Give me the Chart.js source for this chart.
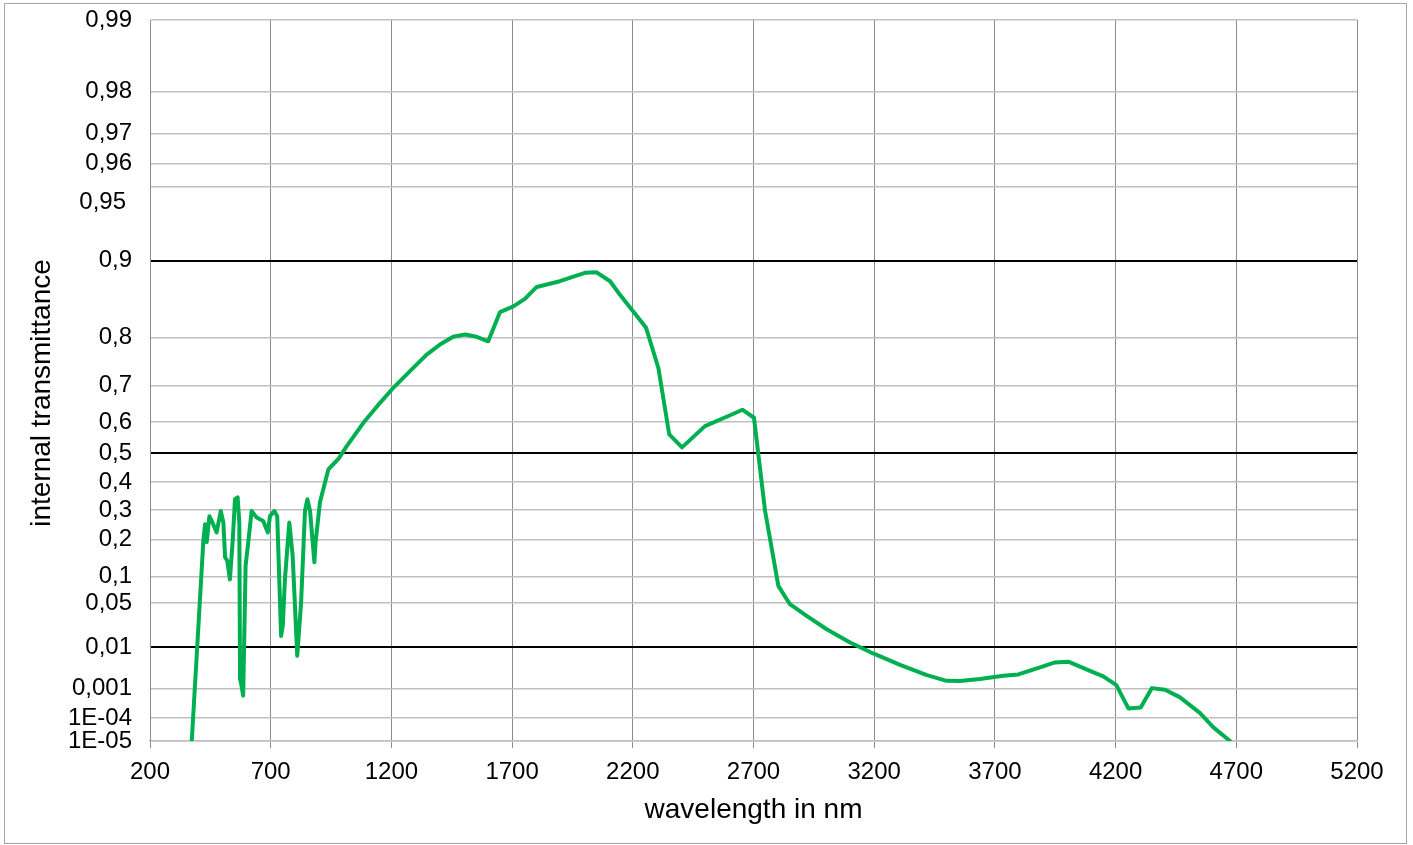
<!DOCTYPE html>
<html>
<head>
<meta charset="utf-8">
<title>internal transmittance</title>
<script src="https://cdn.jsdelivr.net/npm/chart.js@4.4.1/dist/chart.umd.min.js"></script>
<style>
  html, body { margin: 0; padding: 0; background: #fff; }
  #wrap { position: relative; width: 1413px; height: 845px; }
</style>
</head>
<body>
<div id="wrap"><canvas id="transChart"></canvas></div>
<script>
// ---------------------------------------------------------------------------
// data read off the curve : wavelength in nm / internal transmittance
// ---------------------------------------------------------------------------
const wavelengths = [
  373, 421, 428, 435, 446, 456, 476, 493, 504, 511, 520, 531, 543, 552, 563, 570,
  573, 578, 586, 596, 607, 621, 642, 669, 688, 697, 715, 727, 743, 750, 759, 777,
  791, 810, 826, 842, 852, 863, 881, 886, 904, 939, 984, 1015, 1084, 1153, 1208,
  1277, 1346, 1401, 1456, 1505, 1553, 1601, 1650, 1705, 1753, 1802, 1898, 1954,
  2002, 2050, 2106, 2147, 2202, 2255, 2306, 2351, 2404, 2499, 2596, 2654, 2702,
  2748, 2803, 2851, 2920, 3003, 3100, 3196, 3307, 3418, 3500, 3555, 3638, 3735,
  3797, 3887, 3949, 4004, 4094, 4149, 4203, 4253, 4304, 4350, 4405, 4467, 4550,
  4605, 4674
];
const transmittance = [
  0.00001, 0.196, 0.250, 0.192, 0.278, 0.261, 0.223, 0.296, 0.256, 0.148, 0.138, 0.093, 0.201, 0.338, 0.345, 0.256,
  0.00186, 0.00135, 0.00061, 0.125, 0.192, 0.296, 0.273, 0.261, 0.223, 0.278, 0.296, 0.278, 0.0162, 0.0237, 0.0934, 0.256,
  0.151, 0.00666, 0.0514, 0.296, 0.338, 0.296, 0.134, 0.192, 0.327, 0.445, 0.485, 0.524, 0.598, 0.655, 0.694,
  0.733, 0.768, 0.787, 0.801, 0.805, 0.801, 0.793, 0.840, 0.848, 0.858, 0.8725, 0.879, 0.884,
  0.888, 0.8885, 0.879, 0.863, 0.841, 0.816, 0.740, 0.562, 0.520, 0.588, 0.618, 0.636, 0.613,
  0.296, 0.0796, 0.0485, 0.0337, 0.0210, 0.0123, 0.00749, 0.00421, 0.00236, 0.00167, 0.00164, 0.00186, 0.00227,
  0.00246, 0.00366, 0.00478, 0.00497, 0.00303, 0.00219, 0.00127, 0.000231, 0.000251, 0.00104, 0.000928, 0.000543, 0.000156,
  0.000042, 0.00001
];

// y ticks (transmittance) and how they are written
const yTickValues = [0.99, 0.98, 0.97, 0.96, 0.95, 0.9, 0.8, 0.7, 0.6, 0.5, 0.4, 0.3, 0.2, 0.1, 0.05, 0.01, 0.001, 1e-4, 1e-5];
const yTickLabels = ['0,99', '0,98', '0,97', '0,96', '0,95', '0,9', '0,8', '0,7', '0,6', '0,5', '0,4', '0,3', '0,2', '0,1', '0,05', '0,01', '0,001', '1E-04', '1E-05'];
const yStrongTicks = [0.9, 0.5, 0.01];   // drawn as black lines

// x axis
const xMin = 200, xMax = 5200, xStep = 500;

const FONT = "'Liberation Sans', Arial, sans-serif";

// the y axis is a "double log" one : y = log10(-ln T)
function tr(t) {
    return Math.log10(-Math.log(t));
}

// ---------------------------------------------------------------------------
// extra drawing : frame, y title, the shifted 0,95 label
// ---------------------------------------------------------------------------
const extras = {
    id: 'extras',
    afterDraw(chart) {
        const ctx = chart.ctx;
        const yScale = chart.scales.y;
        ctx.save();

        ctx.strokeStyle = '#a6a6a6';
        ctx.lineWidth = 1;
        ctx.strokeRect(4.5, 3.5, 1402, 840);

        // in the original the 0,95 label sits below its own gridline
        ctx.fillStyle = '#000';
        ctx.font = '24px ' + FONT;
        ctx.textAlign = 'right';
        ctx.textBaseline = 'middle';
        ctx.fillText(yTickLabels[4], yScale.right - 24, yScale.getPixelForValue(tr(yTickValues[4])) + 16);

        ctx.font = '28px ' + FONT;
        ctx.textAlign = 'center';
        ctx.translate(42, 393);
        ctx.rotate(-Math.PI / 2);
        ctx.fillText('internal transmittance', 0, 0);

        ctx.restore();
    }
};

// ---------------------------------------------------------------------------
// chart
// ---------------------------------------------------------------------------
const points = wavelengths.map((w, i) => ({ x: w, y: tr(transmittance[i]) }));

new Chart(document.getElementById('transChart'), {
    type: 'line',
    data: {
        datasets: [{
            label: 'internal transmittance',
            data: points,
            borderColor: '#00b050',
            borderWidth: 4,
            pointRadius: 0,
            tension: 0,
            borderJoinStyle: 'round',
            borderCapStyle: 'round',
            fill: false
        }]
    },
    options: {
        responsive: true,
        maintainAspectRatio: false,
        animation: false,
        layout: { padding: { top: 20, right: 56, left: 0, bottom: 0 } },
        plugins: {
            legend: { display: false },
            tooltip: { enabled: false }
        },
        scales: {
            x: {
                type: 'linear',
                min: xMin,
                max: xMax,
                afterFit: s => { s.height = 104; s.paddingLeft = 0; s.paddingRight = 0; },
                ticks: {
                    stepSize: xStep,
                    color: '#000',
                    font: { family: FONT, size: 24 },
                    padding: 10,
                    maxRotation: 0,
                    callback: v => String(v)
                },
                grid: {
                    color: '#8c8c8c',
                    lineWidth: 1,
                    tickLength: 7,
                    tickColor: '#8c8c8c'
                },
                border: { color: '#bfbfbf', width: 1.5 },
                title: {
                    display: true,
                    text: 'wavelength in nm',
                    color: '#000',
                    font: { family: FONT, size: 28 },
                    padding: 18
                }
            },
            y: {
                type: 'linear',
                reverse: true,
                min: tr(yTickValues[0]),
                max: tr(yTickValues[yTickValues.length - 1]),
                afterFit: s => { s.width = 150; s.paddingTop = 0; s.paddingBottom = 0; },
                afterBuildTicks: s => {
                    s.ticks = yTickValues.map(v => ({ value: tr(v) }));
                },
                ticks: {
                    autoSkip: false,
                    color: '#000',
                    font: { family: FONT, size: 24 },
                    padding: 18,
                    callback: (value, index) => index === 4 ? '' : yTickLabels[index]
                },
                grid: {
                    drawTicks: false,
                    color: c => yStrongTicks.includes(yTickValues[c.index]) ? '#000' : '#c0c0c0',
                    lineWidth: c => yStrongTicks.includes(yTickValues[c.index]) ? 2 : 1.5
                },
                border: { color: '#8c8c8c', width: 1 }
            }
        }
    },
    plugins: [extras]
});
</script>
</body>
</html>
